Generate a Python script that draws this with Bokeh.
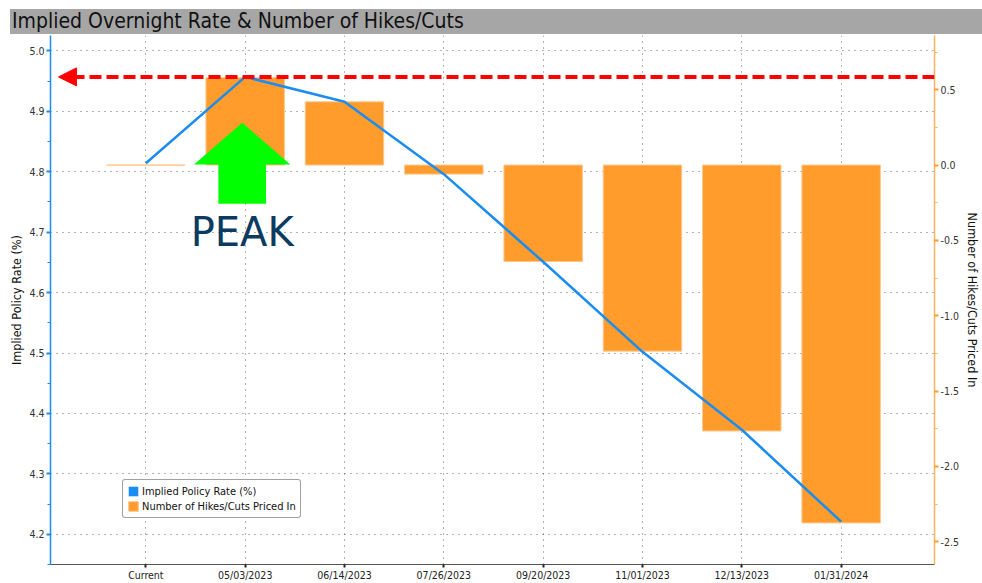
import html
from bokeh.plotting import figure
from bokeh.models import (Range1d, LinearAxis, FixedTicker, Legend, LegendItem,
                          Arrow, NormalHead, Label, Div, ColumnDataSource,
                          NumeralTickFormatter)
from bokeh.layouts import column
from bokeh.embed import file_html
from bokeh.resources import INLINE

# ---------------- data ----------------
title = "Implied Overnight Rate & Number of Hikes/Cuts"
categories = ["Current", "05/03/2023", "06/14/2023", "07/26/2023",
              "09/20/2023", "11/01/2023", "12/13/2023", "01/31/2024"]
implied_rate = [4.814, 4.957, 4.916, 4.796, 4.651, 4.502, 4.373, 4.221]
hikes_cuts = [0.0, 0.58, 0.42, -0.06, -0.64, -1.235, -1.765, -2.375]
left_ticks = [4.2, 4.3, 4.4, 4.5, 4.6, 4.7, 4.8, 4.9, 5.0]
right_ticks = [-2.5, -2.0, -1.5, -1.0, -0.5, 0.0, 0.5]
rate_label = "Implied Policy Rate (%)"
hikes_label = "Number of Hikes/Cuts Priced In"
annotation_text = "PEAK"

# ---------------- style ----------------
FONT = "DejaVu Sans Condensed"
BLUE = "#1b8cf2"
ORANGE = "#ff9c2b"
ORANGE_EDGE = "#ffc78e"
RED = "#ff0000"
GREEN = "#00ff00"

x = list(range(len(categories)))
src = ColumnDataSource(dict(x=x, rate=implied_rate, hikes=hikes_cuts))

p = figure(width=982, height=549, output_backend="svg", toolbar_location=None,
           x_range=Range1d(-0.96, 7.94), y_range=Range1d(4.150, 5.0255),
           min_border_left=50, min_border_right=0, min_border_top=1,
           min_border_bottom=0, outline_line_color=None,
           background_fill_color="white", border_fill_color="white",
           margin=(0, 0, 0, 0))
p.extra_y_ranges = {"hikes": Range1d(-2.651, 0.860)}

# grids
p.xgrid.ticker = FixedTicker(ticks=x)
for g in (p.xgrid, p.ygrid):
    g.grid_line_color = "#666666"
    g.grid_line_dash = "1 5"
    g.grid_line_width = 1

# x axis
xa = p.xaxis[0]
xa.ticker = FixedTicker(ticks=x)
xa.major_label_overrides = {i: c for i, c in zip(x, categories)}
xa.axis_line_color = "#555555"
xa.major_tick_line_color = "#222222"
xa.major_tick_line_width = 2
xa.major_tick_out = 3
xa.major_tick_in = 0
xa.minor_tick_line_color = None
xa.major_label_text_font = FONT
xa.major_label_text_font_size = "10.5px"
xa.major_label_text_color = "#222222"
xa.major_label_standoff = 1

# left axis
ya = p.yaxis[0]
minor_left = [t - 0.05 for t in left_ticks] + [left_ticks[-1] + 0.05]
ya.ticker = FixedTicker(ticks=left_ticks, minor_ticks=minor_left)
ya.formatter = NumeralTickFormatter(format="0.0")
ya.axis_label = rate_label
ya.axis_line_color = BLUE
ya.axis_line_width = 1.5
ya.major_tick_line_color = BLUE
ya.major_tick_line_width = 2
ya.major_tick_out = 4
ya.major_tick_in = 0
ya.minor_tick_line_color = BLUE
ya.minor_tick_out = 3
ya.minor_tick_in = 0
ya.major_label_text_font = FONT
ya.major_label_text_font_size = "10.5px"
ya.major_label_text_color = "#333333"
ya.major_label_standoff = 2
ya.axis_label_text_font = FONT
ya.axis_label_text_font_size = "12.5px"
ya.axis_label_text_font_style = "normal"
ya.axis_label_text_color = "#111111"
ya.axis_label_standoff = 2

# right axis
minor_right = [t - 0.25 for t in right_ticks] + [right_ticks[-1] + 0.25]
ra = LinearAxis(y_range_name="hikes",
                ticker=FixedTicker(ticks=right_ticks, minor_ticks=minor_right),
                formatter=NumeralTickFormatter(format="0.0"),
                axis_label=hikes_label)
ra.axis_line_color = "#ffb35c"
ra.axis_line_width = 1.5
ra.major_tick_line_color = "#ff9c2b"
ra.major_tick_line_width = 2
ra.major_tick_out = 4
ra.major_tick_in = 0
ra.minor_tick_line_color = "#ffb35c"
ra.minor_tick_out = 3
ra.minor_tick_in = 0
ra.major_label_text_font = FONT
ra.major_label_text_font_size = "10.5px"
ra.major_label_text_color = "#333333"
ra.major_label_standoff = 2
ra.axis_label_text_font = FONT
ra.axis_label_text_font_size = "12.5px"
ra.axis_label_text_font_style = "normal"
ra.axis_label_text_color = "#111111"
ra.axis_label_standoff = 3
p.add_layout(ra, "right")

# bars
bars = p.vbar(x="x", top="hikes", bottom=0, width=0.79, y_range_name="hikes",
              fill_color=ORANGE, line_color=ORANGE_EDGE, line_width=1, source=src)

# line
rate_line = p.line(x="x", y="rate", line_color=BLUE, line_width=2.5, source=src)

# red dashed peak arrow
peak = max(implied_rate)
p.add_layout(Arrow(end=NormalHead(size=18, fill_color=RED, line_color=RED, line_width=1),
                   x_start=p.x_range.end, y_start=peak, x_end=-0.88, y_end=peak,
                   line_color=RED, line_width=4, line_dash="12 5"))

# green block arrow pointing to the peak
pk = implied_rate.index(peak)
c = pk - 0.03
tip_y, base_y, bot_y = 4.881, 4.812, 4.747
p.patch([c, c + 0.485, c + 0.24, c + 0.24, c - 0.24, c - 0.24, c - 0.485],
        [tip_y, base_y, base_y, bot_y, bot_y, base_y, base_y],
        fill_color=GREEN, line_color=None)

p.add_layout(Label(x=pk - 0.03, y=4.7005, text=annotation_text, text_align="center",
                   text_baseline="alphabetic", text_font="DejaVu Sans",
                   text_font_size="40px", text_color="#0c3b62"))

# legend (square swatches); hidden bar renderer gives the blue swatch
blue_proxy = p.vbar(x="x", top="rate", width=0.5, fill_color=BLUE, line_color=None,
                    source=src, visible=False)
legend = Legend(items=[LegendItem(label=rate_label, renderers=[blue_proxy]),
                       LegendItem(label=hikes_label, renderers=[bars])],
                location=(72, 46), orientation="vertical",
                label_text_font=FONT, label_text_font_size="11px",
                label_text_color="#111111", glyph_width=12, glyph_height=12,
                label_height=14, label_standoff=3, spacing=1, padding=4, margin=0,
                border_line_color="#444444", border_line_width=1, border_radius=3,
                background_fill_color="white", background_fill_alpha=1)
p.add_layout(legend)

header = Div(text=('<div style="background:#a6a6a6;width:972px;height:25px;'
                   'line-height:25px;font-family:\'DejaVu Sans Condensed\';font-size:21px;'
                   'color:#111;padding-left:2px;box-sizing:border-box;white-space:nowrap;'
                   'overflow:hidden;">'
                   + html.escape(title) + '</div>'),
             width=972, height=25, margin=(9, 0, 0, 10))

layout = column(header, p, spacing=0)
open("out.html", "w").write(file_html(layout, INLINE))
